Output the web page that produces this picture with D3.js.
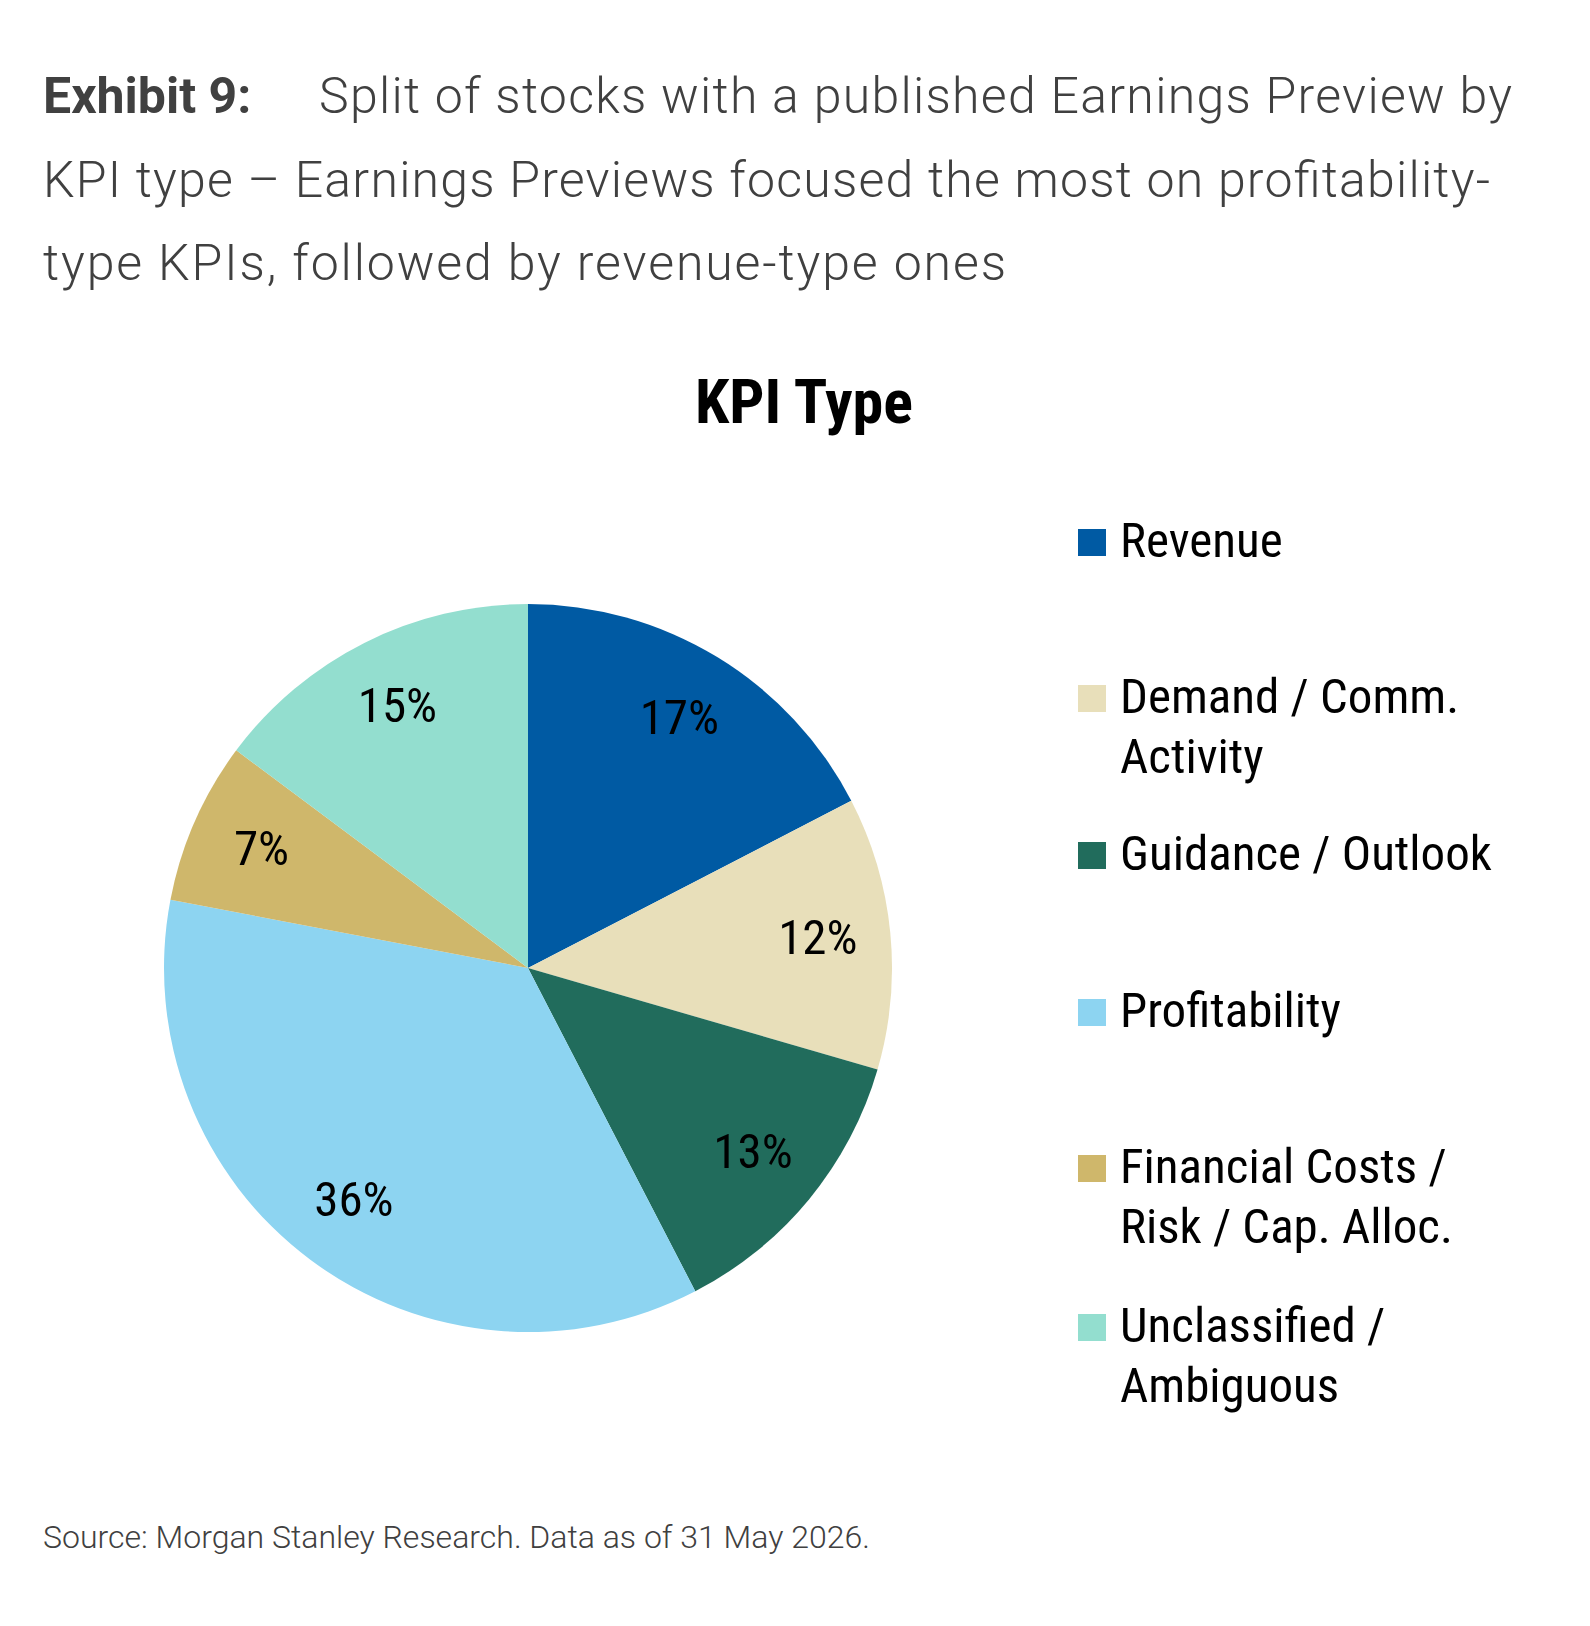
<!DOCTYPE html>
<html>
<head>
<meta charset="utf-8">
<script src="https://cdn.jsdelivr.net/npm/d3@7"></script>
<style>
  body { margin: 0; background: #fff; }
</style>
</head>
<body>
<svg id="chart"></svg>
<script>
/* eslint-disable indent */

// ---- data ----
const categories = [
  'Revenue',
  'Demand / Comm. Activity',
  'Guidance / Outlook',
  'Profitability',
  'Financial Costs / Risk / Cap. Alloc.',
  'Unclassified / Ambiguous',
];
// legend wraps as in the exhibit
const legendLines = [
  ['Revenue'],
  ['Demand / Comm.', 'Activity'],
  ['Guidance / Outlook'],
  ['Profitability'],
  ['Financial Costs /', 'Risk / Cap. Alloc.'],
  ['Unclassified /', 'Ambiguous'],
];
const shares = [17.4, 12.1, 12.9, 35.6, 7.2, 14.8];

const exhibitLabel = 'Exhibit 9:';
const headLines = [
  'Split of stocks with a published Earnings Preview by',
  'KPI type \u2013 Earnings Previews focused the most on profitability-',
  'type KPIs, followed by revenue-type ones',
];
const chartTitle = 'KPI Type';
const sourceNote = 'Source: Morgan Stanley Research. Data as of 31 May 2026.';

// ---- style / layout ----
const palette = ['#005aa3', '#e8dfba', '#216c5c', '#8dd4f1', '#cfb76b', '#93decf'];
const width = 1590;
const height = 1626;
const cx = 528;
const cy = 968;
const radius = 364;
const legendBaselines = [557, 713, 870, 1027, 1183, 1342];
// header lines: start x and set width so the wrap matches the exhibit
const headStart = [319, 43, 43];
const headWidth = [1193, 1447, 963];

/**
 * Find a condensed face that is actually installed
 * @returns {obj} family and stretch to use
 */
function pickCondensed() {
  const ctx = document.createElement('canvas').getContext('2d');
  const probe = 'Revenue Guidance / Outlook 17%';
  const w = (f) => { ctx.font = f; return ctx.measureText(probe).width; };
  const mono = w('48px monospace');
  if (Math.abs(w('48px "Roboto Condensed", monospace') - mono) > 1) {
    return { family: '"Roboto Condensed"', stretch: 'normal' };
  }
  if (w('condensed 48px Roboto') < w('48px Roboto') - 5) {
    return { family: 'Roboto', stretch: 'condensed' };
  }
  if (Math.abs(w('48px "Liberation Sans Narrow", monospace') - mono) > 1) {
    return { family: '"Liberation Sans Narrow"', stretch: 'normal' };
  }
  return { family: '"DejaVu Sans Condensed", "DejaVu Sans"', stretch: 'condensed' };
}

const cond = pickCondensed();
const lightFont = 'Roboto, "Noto Sans", sans-serif';

const svg = d3.select('#chart')
  .attr('width', width)
  .attr('height', height)
  .attr('viewBox', [0, 0, width, height]);

svg.append('rect')
  .attr('width', width)
  .attr('height', height)
  .attr('fill', '#fff');

// header
svg.append('text')
  .attr('x', 43)
  .attr('y', 113)
  .attr('font-family', lightFont)
  .attr('font-size', 50)
  .attr('font-weight', 700)
  .attr('fill', '#404040')
  .text(exhibitLabel);

svg.append('text')
  .attr('font-family', lightFont)
  .attr('font-size', 50)
  .attr('font-weight', 300)
  .attr('fill', '#404040')
  .selectAll('tspan')
  .data(headLines)
  .join('tspan')
    .attr('x', (d, i) => headStart[i])
    .attr('y', (d, i) => 113 + i * 83.5)
    .attr('textLength', (d, i) => headWidth[i])
    .attr('lengthAdjust', 'spacing')
    .text((d) => d);

// chart title
svg.append('text')
  .attr('x', 804)
  .attr('y', 423)
  .attr('text-anchor', 'middle')
  .attr('font-family', cond.family)
  .style('font-stretch', cond.stretch)
  .attr('font-weight', 700)
  .attr('font-size', 62)
  .attr('fill', '#000')
  .text(chartTitle);

// pie
const slices = categories.map((name, i) => ({ name, value: shares[i], color: palette[i] }));
const total = d3.sum(shares);
const pct = d3.format('.0%');

const pie = d3.pie()
  .sort(null)
  .value((d) => d.value);

const arc = d3.arc()
  .innerRadius(0)
  .outerRadius(radius);

const labelArc = d3.arc()
  .innerRadius(radius * 0.8)
  .outerRadius(radius * 0.8);

const pieG = svg.append('g')
  .attr('transform', `translate(${cx},${cy})`);

pieG.selectAll('path')
  .data(pie(slices))
  .join('path')
    .attr('d', arc)
    .attr('fill', (d) => d.data.color);

pieG.selectAll('text')
  .data(pie(slices))
  .join('text')
    .attr('transform', (d) => `translate(${labelArc.centroid(d)})`)
    .attr('dy', '0.3em')
    .attr('text-anchor', 'middle')
    .attr('font-family', cond.family)
    .style('font-stretch', cond.stretch)
    .attr('font-size', 49)
    .attr('fill', '#000')
    .text((d) => pct(d.data.value / total));

// legend
const legend = svg.append('g')
  .attr('font-family', cond.family)
  .style('font-stretch', cond.stretch)
  .attr('font-size', 49)
  .attr('fill', '#000');

const item = legend.selectAll('g')
  .data(slices)
  .join('g')
    .attr('transform', (d, i) => `translate(1078,${legendBaselines[i]})`);

item.append('rect')
  .attr('x', 0)
  .attr('y', -28)
  .attr('width', 28)
  .attr('height', 27)
  .attr('fill', (d) => d.color);

item.append('text')
  .selectAll('tspan')
  .data((d, i) => legendLines[i])
  .join('tspan')
    .attr('x', 42)
    .attr('y', (d, j) => j * 60)
    .text((d) => d);

// source
svg.append('text')
  .attr('x', 43)
  .attr('y', 1548)
  .attr('font-family', lightFont)
  .attr('font-weight', 300)
  .attr('font-size', 32)
  .attr('fill', '#404040')
  .text(sourceNote);
</script>
</body>
</html>
